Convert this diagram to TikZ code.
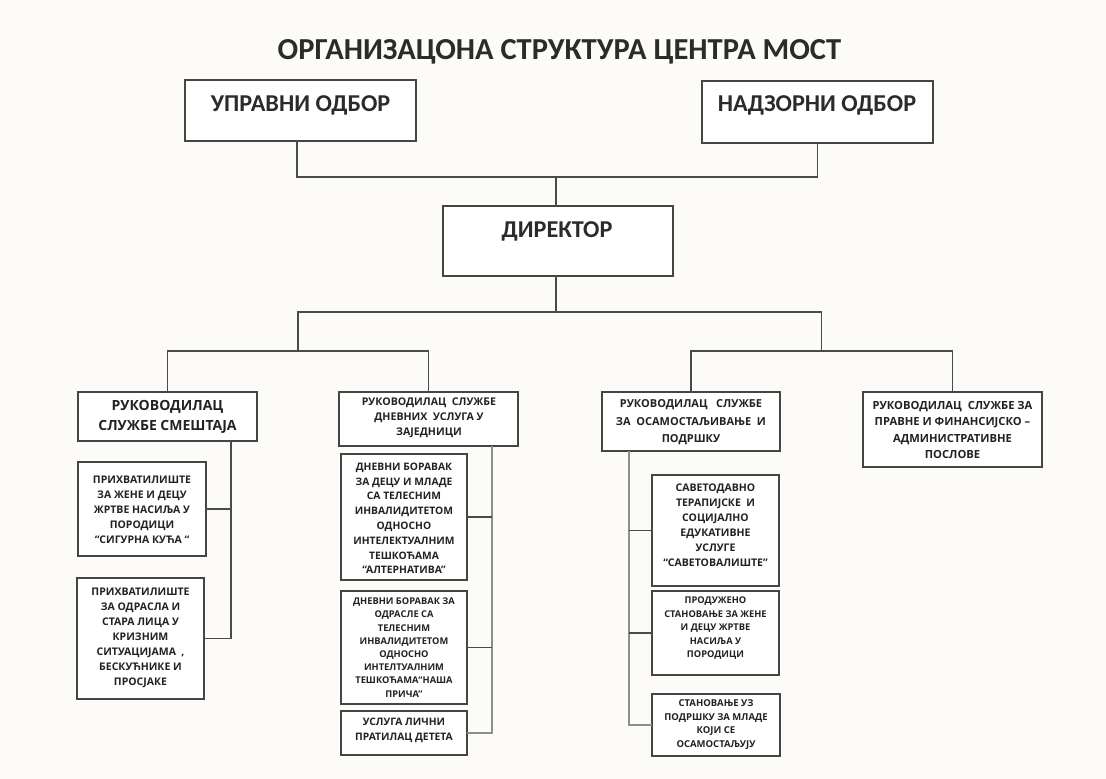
\documentclass[tikz,border=0pt]{standalone}
\usepackage{fontspec}
\newfontfamily\calfont{Carlito}
\newfontfamily\osfont{Open Sans}
\definecolor{bg}{HTML}{FDFBF7}
\definecolor{boxc}{HTML}{454545}
\definecolor{linec}{HTML}{4A4A4A}
\definecolor{spinec}{HTML}{8E8E8E}
\definecolor{titlec}{HTML}{2B2B2B}
\definecolor{txtc}{HTML}{222222}
\begin{document}
\begin{tikzpicture}[x=1pt,y=-1pt,
  box/.style={draw=boxc, line width=1.2pt, fill=white, inner sep=0pt, outer sep=0pt},
  conn/.style={draw=linec, line width=1.1pt},
  spine/.style={draw=spinec, line width=1.4pt},
  bigtxt/.style={inner sep=0pt, anchor=base, text=titlec, font=\calfont\bfseries\fontsize{24.2}{28}\selectfont},
  tx/.style 2 args={inner sep=0pt, align=center, text=txtc, font=\osfont\bfseries\fontsize{#1}{#2}\selectfont}]
\useasboundingbox (0,0) rectangle (1106,779);
\fill[bg] (0,0) rectangle (1106,779);

% title
\node[inner sep=0pt, anchor=base, text=titlec, font=\calfont\bfseries\fontsize{30.5}{34}\selectfont] (title) at (559.5,59) {ОРГАНИЗАЦОНА СТРУКТУРА ЦЕНТРА МОСТ};

% top boxes
\node[box, minimum width=231pt, minimum height=61pt] (upr) at (300.5,110.5) {};
\node[bigtxt] (tupr) at (300.5,111.5) {УПРАВНИ ОДБОР};
\node[box, minimum width=231pt, minimum height=62pt] (nad) at (817.5,112) {};
\node[bigtxt] (tnad) at (817,111.5) {НАДЗОРНИ ОДБОР};
\node[box, minimum width=230pt, minimum height=70pt] (dir) at (558,241) {};
\node[bigtxt] (tdir) at (557,237) {ДИРЕКТОР};

% second level
\node[box, minimum width=179pt, minimum height=49pt] (r1) at (167.5,416.5) {};
\node[tx={14}{20}] (tr1) at (167.5,417) {РУКОВОДИЛАЦ\\СЛУЖБЕ СМЕШТАЈА};
\node[box, minimum width=179pt, minimum height=54pt] (r2) at (428.5,419) {};
\node[tx={10.6}{15}] (tr2) at (429,418) {РУКОВОДИЛАЦ\ \ СЛУЖБЕ\\ДНЕВНИХ\ \ УСЛУГА У\\ЗАЈЕДНИЦИ};
\node[box, minimum width=178pt, minimum height=59pt] (r3) at (691,421.5) {};
\node[tx={11}{17.5}] (tr3) at (691,422.5) {РУКОВОДИЛАЦ\ \ \ СЛУЖБЕ\\ЗА\ \ ОСАМОСТАЉИВАЊЕ\ \ И\\ПОДРШКУ};
\node[box, minimum width=179pt, minimum height=75pt] (r4) at (952.5,429.5) {};
\node[tx={11.2}{16.6}] (tr4) at (952.5,430) {РУКОВОДИЛАЦ\ \ СЛУЖБЕ ЗА\\ПРАВНЕ И ФИНАНСИЈСКО –\\АДМИНИСТРАТИВНЕ\\ПОСЛОВЕ};

% left column
\node[box, minimum width=128pt, minimum height=94pt] (p1) at (142,509) {};
\node[tx={10.5}{15}] (tp1) at (142,509.5) {ПРИХВАТИЛИШТЕ\\ЗА ЖЕНЕ И ДЕЦУ\\ЖРТВЕ НАСИЉА У\\ПОРОДИЦИ\\“СИГУРНА КУЋА “};
\node[box, minimum width=127pt, minimum height=121pt] (p2) at (140.5,638.5) {};
\node[tx={10.5}{15}] (tp2) at (140.5,637.5) {ПРИХВАТИЛИШТЕ\\ЗА ОДРАСЛА И\\СТАРА ЛИЦА У\\КРИЗНИМ\\СИТУАЦИЈАМА\enspace,\\БЕСКУЋНИКЕ И\\ПРОСЈАКЕ};

% second column
\node[box, minimum width=126pt, minimum height=126pt] (d1) at (404,517) {};
\node[tx={10.3}{14.8}] (td1) at (404,518.5) {ДНЕВНИ БОРАВАК\\ЗА ДЕЦУ И МЛАДЕ\\СА ТЕЛЕСНИМ\\ИНВАЛИДИТЕТОМ\\ОДНОСНО\\ИНТЕЛЕКТУАЛНИМ\\ТЕШКОЋАМА\\“АЛТЕРНАТИВА”};
\node[box, minimum width=126pt, minimum height=113pt] (d2) at (404,647.5) {};
\node[tx={9.3}{13.2}] (td2) at (404,647.5) {ДНЕВНИ БОРАВАК ЗА\\ОДРАСЛЕ СА\\ТЕЛЕСНИМ\\ИНВАЛИДИТЕТОМ\\ОДНОСНО\\ИНТЕЛТУАЛНИМ\\ТЕШКОЋАМА“НАША\\ПРИЧА”};
\node[box, minimum width=126pt, minimum height=44pt] (u) at (404,733) {};
\node[tx={10.3}{15}] (tu) at (404,730.5) {УСЛУГА ЛИЧНИ\\ПРАТИЛАЦ ДЕТЕТА};

% third column
\node[box, minimum width=127pt, minimum height=111pt] (s1) at (715.5,530.5) {};
\node[tx={10.5}{15}] (ts1) at (715.5,525) {САВЕТОДАВНО\\ТЕРАПИЈСКЕ\ \ И\\СОЦИЈАЛНО\\ЕДУКАТИВНЕ\\УСЛУГЕ\\“САВЕТОВАЛИШТЕ”};
\node[box, minimum width=127pt, minimum height=84pt] (s2) at (715.5,633) {};
\node[tx={9.3}{13.5}] (ts2) at (715.5,628.5) {ПРОДУЖЕНО\\СТАНОВАЊЕ ЗА ЖЕНЕ\\И ДЕЦУ ЖРТВЕ\\НАСИЉА У\\ПОРОДИЦИ};
\node[box, minimum width=128pt, minimum height=62pt] (s3) at (716,725) {};
\node[tx={9.5}{13.5}] (ts3) at (716,724.5) {СТАНОВАЊЕ УЗ\\ПОДРШКУ ЗА МЛАДЕ\\КОЈИ СЕ\\ОСАМОСТАЉУЈУ};

% connectors: boards to director
\coordinate (j1) at (556,177);
\coordinate (ua) at ([xshift=-3.5pt]upr.south);
\draw[conn] (ua) -- (ua |- j1) -- (nad.south |- j1) -- (nad.south);
\draw[conn] (j1) -- (j1 |- dir.north);

% director to services
\coordinate (j2) at (556,312);
\coordinate (jl) at (298,351);
\coordinate (jr) at (821.5,351);
\draw[conn] (j2 |- dir.south) -- (j2);
\draw[conn] (jl) -- (jl |- j2) -- (jr |- j2) -- (jr);
\draw[conn] (r1.north) -- (r1.north |- jl) -- (r2.north |- jl) -- (r2.north);
\draw[conn] (r3.north) -- (r3.north |- jr) -- (r4.north |- jr) -- (r4.north);

% spine 1
\coordinate (k1) at (231,0);
\draw[conn] (k1 |- r1.south) -- (k1 |- p2.east) -- (p2.east);
\draw[conn] (p1.east) -- (p1.east -| k1);

% spine 2
\coordinate (k2) at (492,0);
\draw[spine] (k2 |- r2.south) -- (k2 |- u.east) -- (u.east);
\draw[conn] (d1.east) -- (d1.east -| k2);
\draw[conn] (d2.east) -- (d2.east -| k2);

% spine 3
\coordinate (k3) at (629,0);
\draw[spine] (k3 |- r3.south) -- (k3 |- s3.west) -- (s3.west);
\draw[conn] (s1.west) -- (s1.west -| k3);
\draw[conn] (s2.west) -- (s2.west -| k3);
\end{tikzpicture}
\end{document}
